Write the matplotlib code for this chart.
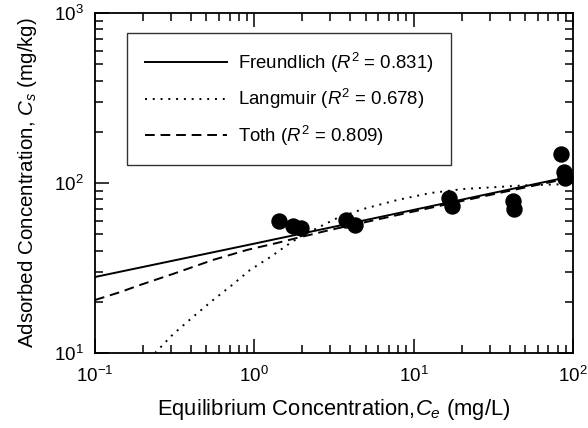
import matplotlib
matplotlib.use('Agg')
import matplotlib.pyplot as plt
import numpy as np

plt.rcParams['font.family'] = ['Liberation Sans', 'DejaVu Sans']
plt.rcParams['mathtext.fontset'] = 'custom'
plt.rcParams['mathtext.rm'] = 'Liberation Sans'
plt.rcParams['mathtext.it'] = 'Liberation Sans:italic'

# measured data
ce_data = [1.43, 1.75, 1.96, 3.77, 4.28, 16.7, 17.4, 42.1, 42.7, 84.2, 87.9, 88.6]
cs_data = [59.7, 55.8, 54.3, 60.5, 56.6, 81.6, 73.3, 78.3, 70.3, 148, 116, 107]

# fitted curves
ce_freundlich = [0.1, 1, 10, 100]
cs_freundlich = [28, 44, 69.5, 110]

ce_langmuir = [0.238, 0.309, 0.412, 0.551, 0.724, 0.94, 1.26, 1.68, 2.02,
               3.31, 4.81, 7.87, 12.7, 20.4, 33.4, 53.8, 100]
cs_langmuir = [10, 12.9, 16.3, 20.5, 25.1, 30.8, 36.7, 44.4, 49.4,
               62.2, 70.3, 79.4, 87.3, 92.2, 94.7, 97.3, 98.6]

ce_toth = [0.1, 0.1435, 0.191, 0.309, 0.551, 0.90, 1.39, 1.85, 3, 10, 30, 100]
cs_toth = [20.5, 22.8, 25.1, 29.2, 35.3, 40.4, 44.4, 47.5, 53, 68, 85, 108]

fig = plt.figure(figsize=(5.88, 4.28), dpi=100)
ax = fig.add_axes([0.1616, 0.1752, 0.8129, 0.7944])

ax.plot(ce_freundlich, cs_freundlich, color='black', lw=1.4,
        label='Freundlich ($R^2$ = 0.831)')
ax.plot(ce_langmuir, cs_langmuir, color='black', lw=1.4, linestyle=(0, (1, 3)),
        label='Langmuir ($R^2$ = 0.678)')
ax.plot(ce_toth, cs_toth, color='black', lw=1.4, linestyle=(0, (5, 3)),
        label='Toth ($R^2$ = 0.809)')
ax.plot(ce_data, cs_data, 'o', color='black', ms=10.8, zorder=5)

ax.set_xscale('log')
ax.set_yscale('log')
ax.set_xlim(0.1, 100)
ax.set_ylim(10, 1000)

ax.tick_params(which='both', direction='in', top=True, right=True,
               labelsize=13.5, width=1.1)
ax.tick_params(which='major', length=10)
ax.tick_params(axis='x', which='major', pad=9)
ax.tick_params(axis='y', which='major', pad=8)
ax.tick_params(which='minor', length=6)
for s in ax.spines.values():
    s.set_linewidth(1.3)

ax.set_xlabel('Equilibrium Concentration,$C_e$ (mg/L)', fontsize=15.8, labelpad=8)
ax.set_ylabel('Adsorbed Concentration, $C_s$ (mg/kg)', fontsize=14.8, labelpad=11)

leg = ax.legend(loc='upper left', bbox_to_anchor=(0.067, 0.574, 0.678, 0.367),
                mode='expand', fontsize=13.4, frameon=True, fancybox=False,
                edgecolor='black', handlelength=4.4, handletextpad=0.6,
                labelspacing=0.66, borderpad=0.95, borderaxespad=0)
leg.get_frame().set_linewidth(1.0)

fig.savefig('out.png', dpi=100)
